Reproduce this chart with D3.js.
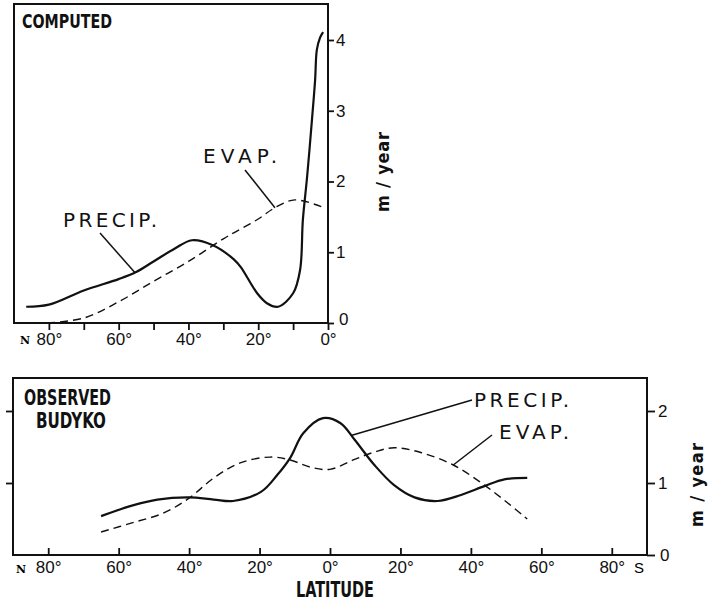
<!DOCTYPE html>
<html>
<head>
<meta charset="utf-8">
<script src="https://cdn.jsdelivr.net/npm/d3@7"></script>
<style>
    body { margin: 0; background: #fff; }
    svg { display: block; }
    .title { font-family: 'Liberation Sans Narrow', 'DejaVu Sans Condensed', sans-serif; font-weight: bold; fill: #111; }
    .lab { font-family: 'DejaVu Sans', sans-serif; fill: #111; }
    .tick text { font-family: 'Liberation Sans Narrow', 'Liberation Sans', sans-serif; font-size: 17px; fill: #111; }
    .tick line { stroke: #111; stroke-width: 1.8; }
</style>
</head>
<body>
<div id="chart"></div>
<script>
// computed (model) profile, northern hemisphere, latitude in degrees
const topLat = [86.5, 80, 70, 60, 55, 50, 44, 39, 33, 27, 25, 20.3, 17.5, 14.3, 10, 8, 7.2, 6, 4.6, 3.7, 3.2, 2.3, 1.4];
const topPrecip = [0.23, 0.26, 0.46, 0.62, 0.72, 0.87, 1.05, 1.17, 1.1, 0.9, 0.79, 0.42, 0.28, 0.23, 0.42, 0.75, 1.46, 2.06, 2.87, 3.43, 3.86, 4.03, 4.11];
const topEvapLat = [80.5, 70, 60, 50, 40, 30, 25, 20, 15.2, 9.5, 1.7];
const topEvap = [0.0, 0.07, 0.3, 0.59, 0.87, 1.19, 1.33, 1.47, 1.63, 1.74, 1.64];

// observed (Budyko), north positive, south negative
const botLat = [65, 56, 49, 40, 33, 27.5, 19.5, 15, 11.3, 7.6, 2, -3, -7, -12.6, -18.2, -24, -30.5, -37, -44, -49.5, -56];
const botPrecip = [0.54, 0.69, 0.77, 0.8, 0.77, 0.75, 0.88, 1.11, 1.35, 1.69, 1.9, 1.83, 1.6, 1.25, 0.97, 0.8, 0.75, 0.83, 0.96, 1.05, 1.07];
const botEvapLat = [65, 56, 47.4, 40, 33, 25.5, 17, 11.3, 5.6, 0, -6.6, -12.6, -18.2, -26, -35, -43, -49.5, -56];
const botEvap = [0.32, 0.45, 0.58, 0.79, 1.07, 1.28, 1.36, 1.32, 1.22, 1.19, 1.32, 1.43, 1.49, 1.42, 1.25, 1.0, 0.76, 0.5];

const topTicks = [80, 70, 60, 50, 40, 30, 20, 10, 0];
const topYTicks = [0, 1, 2, 3, 4];
const botTicks = [80, 60, 40, 20, 0, -20, -40, -60, -80];
const botYTicks = [0, 1, 2];

const width = 714, height = 603;
const svg = d3.select('#chart').append('svg')
    .attr('width', width)
    .attr('height', height);

const ink = '#111';

// ---------- top panel: computed ----------
const x1 = d3.scaleLinear().domain([90, 0]).range([14, 328]);
const y1 = d3.scaleLinear().domain([0, 4]).range([323, 40]);

svg.append('rect')
    .attr('x', 14).attr('y', 4)
    .attr('width', 328 - 14).attr('height', 323 - 4)
    .attr('fill', 'none').attr('stroke', ink).attr('stroke-width', 2);

const gx1 = svg.append('g')
    .attr('transform', 'translate(0,323)')
    .call(d3.axisBottom(x1).tickValues(topTicks).tickSize(7).tickPadding(3)
        .tickFormat(d => d % 20 === 0 ? d + '°' : ''));
gx1.select('.domain').remove();

const gy1 = svg.append('g')
    .attr('transform', 'translate(328,0)')
    .call(d3.axisRight(y1).tickValues(topYTicks).tickSize(6).tickPadding(2).tickFormat(d3.format('d')));
gy1.select('.domain').remove();
gy1.selectAll('.tick').filter(d => d === 0).select('text').attr('x', 11).attr('dy', '0.1em');

// smooth curves through the read-off points
const line = d3.line().curve(d3.curveCatmullRom.alpha(0.5));

svg.append('path')
    .attr('d', line(topLat.map((d, i) => [x1(d), y1(topPrecip[i])])))
    .attr('fill', 'none').attr('stroke', ink).attr('stroke-width', 2.2);

svg.append('path')
    .attr('d', line(topEvapLat.map((d, i) => [x1(d), y1(topEvap[i])])))
    .attr('fill', 'none').attr('stroke', ink).attr('stroke-width', 1.4)
    .attr('stroke-dasharray', '8,5');

svg.append('text').attr('class', 'title')
    .attr('x', 22).attr('y', 28)
    .attr('font-size', 20).attr('textLength', 90).attr('lengthAdjust', 'spacingAndGlyphs')
    .text('COMPUTED');

svg.append('text').attr('font-family', 'DejaVu Serif, serif').attr('font-weight', 'bold')
    .attr('font-size', 11).attr('x', 20).attr('y', 344).text('N');

// labels with leaders
svg.append('text').attr('class', 'lab')
    .attr('x', 63).attr('y', 227).attr('font-size', 20)
    .attr('textLength', 94).text('PRECIP.');
svg.append('line')
    .attr('x1', 100).attr('y1', 233).attr('x2', x1(55.3)).attr('y2', y1(0.71))
    .attr('stroke', ink).attr('stroke-width', 1.5);

svg.append('text').attr('class', 'lab')
    .attr('x', 203).attr('y', 163).attr('font-size', 20)
    .attr('textLength', 74).text('EVAP.');
svg.append('line')
    .attr('x1', 245).attr('y1', 170).attr('x2', x1(15.2)).attr('y2', y1(1.63))
    .attr('stroke', ink).attr('stroke-width', 1.5);

svg.append('text').attr('class', 'title')
    .attr('transform', 'translate(389,172) rotate(-90)')
    .attr('text-anchor', 'middle').attr('font-size', 18)
    .attr('textLength', 80).attr('lengthAdjust', 'spacing')
    .text('m / year');

// ---------- bottom panel: observed ----------
const x2 = d3.scaleLinear().domain([90, -90]).range([13, 647]);
const y2 = d3.scaleLinear().domain([0, 2]).range([555, 411]);

svg.append('rect')
    .attr('x', 13).attr('y', 378)
    .attr('width', 647 - 13).attr('height', 555 - 378)
    .attr('fill', 'none').attr('stroke', ink).attr('stroke-width', 2);

const gx2 = svg.append('g')
    .attr('transform', 'translate(0,555)')
    .call(d3.axisBottom(x2).tickValues(botTicks).tickSize(-7).tickPadding(6)
        .tickFormat(d => Math.abs(d) + '°'));
gx2.select('.domain').remove();

const gyl = svg.append('g')
    .attr('transform', 'translate(13,0)')
    .call(d3.axisLeft(y2).tickValues([1, 2]).tickSize(7).tickFormat(''));
gyl.select('.domain').remove();

const gy2 = svg.append('g')
    .attr('transform', 'translate(647,0)')
    .call(d3.axisRight(y2).tickValues(botYTicks).tickSize(8).tickPadding(3).tickFormat(d3.format('d')));
gy2.select('.domain').remove();
gy2.selectAll('.tick').filter(d => d === 0).select('text').attr('x', 13);

svg.append('path')
    .attr('d', line(botLat.map((d, i) => [x2(d), y2(botPrecip[i])])))
    .attr('fill', 'none').attr('stroke', ink).attr('stroke-width', 2.2);

svg.append('path')
    .attr('d', line(botEvapLat.map((d, i) => [x2(d), y2(botEvap[i])])))
    .attr('fill', 'none').attr('stroke', ink).attr('stroke-width', 1.4)
    .attr('stroke-dasharray', '8,5');

svg.append('text').attr('class', 'title')
    .attr('x', 24).attr('y', 405)
    .attr('font-size', 21).attr('textLength', 87).attr('lengthAdjust', 'spacingAndGlyphs')
    .text('OBSERVED');
svg.append('text').attr('class', 'title')
    .attr('x', 36).attr('y', 428)
    .attr('font-size', 21).attr('textLength', 70).attr('lengthAdjust', 'spacingAndGlyphs')
    .text('BUDYKO');

svg.append('text').attr('font-family', 'DejaVu Serif, serif').attr('font-weight', 'bold')
    .attr('font-size', 11).attr('x', 16).attr('y', 573).text('N');
svg.append('text').attr('font-family', 'Liberation Sans, sans-serif')
    .attr('font-size', 15).attr('x', 634).attr('y', 573).text('S');

svg.append('text').attr('class', 'lab')
    .attr('x', 474).attr('y', 407).attr('font-size', 20)
    .attr('textLength', 95).text('PRECIP.');
svg.append('line')
    .attr('x1', 472).attr('y1', 400).attr('x2', x2(-6)).attr('y2', y2(1.66))
    .attr('stroke', ink).attr('stroke-width', 1.5);

svg.append('text').attr('class', 'lab')
    .attr('x', 499).attr('y', 439).attr('font-size', 20)
    .attr('textLength', 70).text('EVAP.');
svg.append('line')
    .attr('x1', 492).attr('y1', 435).attr('x2', x2(-35)).attr('y2', y2(1.25))
    .attr('stroke', ink).attr('stroke-width', 1.5);

svg.append('text').attr('class', 'title')
    .attr('transform', 'translate(703,485) rotate(-90)')
    .attr('text-anchor', 'middle').attr('font-size', 18)
    .attr('textLength', 84).attr('lengthAdjust', 'spacing')
    .text('m / year');

svg.append('text').attr('class', 'title')
    .attr('x', 335).attr('y', 597).attr('text-anchor', 'middle')
    .attr('font-size', 22).attr('textLength', 78).attr('lengthAdjust', 'spacingAndGlyphs')
    .text('LATITUDE');
</script>
</body>
</html>
